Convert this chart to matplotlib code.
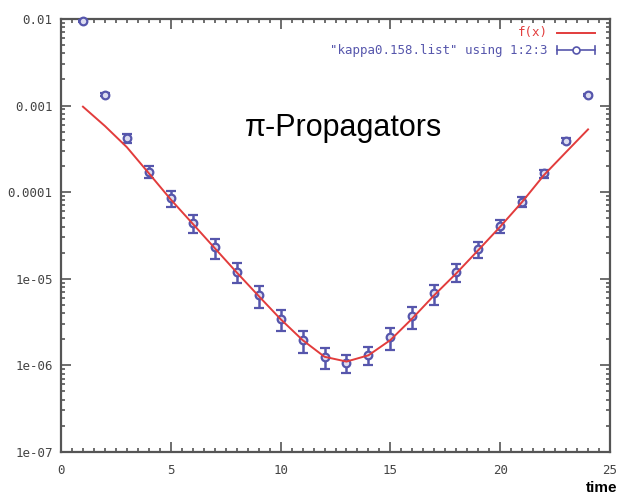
import matplotlib
matplotlib.use('Agg')
import matplotlib.pyplot as plt
import numpy as np
from matplotlib.ticker import FixedLocator, FixedFormatter, LogLocator, MultipleLocator, NullFormatter

# data
t = np.arange(1, 25)
corr = [9.5e-3, 1.34e-3, 4.18e-4, 1.72e-4, 8.46e-5, 4.42e-5, 2.30e-5, 1.20e-5,
        6.45e-6, 3.38e-6, 1.95e-6, 1.25e-6, 1.06e-6, 1.31e-6, 2.09e-6, 3.68e-6,
        6.74e-6, 1.20e-5, 2.18e-5, 4.07e-5, 7.72e-5, 1.64e-4, 3.92e-4, 1.33e-3]
corr_err = [1.9e-4, 4.0e-5, 4.6e-5, 2.8e-5, 1.7e-5, 1.06e-5, 6.0e-6, 3.2e-6,
            1.87e-6, 9.1e-7, 5.5e-7, 3.4e-7, 2.5e-7, 3.1e-7, 5.9e-7, 1.03e-6,
            1.8e-6, 2.9e-6, 4.6e-6, 7.2e-6, 1.08e-5, 1.74e-5, 2.5e-5, 2.7e-5]

# fitted curve f(x), sampled at integer times
fit_t = np.arange(1, 25)
fit_y = [9.7e-4, 5.8e-4, 3.3e-4, 1.65e-4, 8.2e-5, 4.3e-5, 2.25e-5, 1.18e-5,
         6.3e-6, 3.4e-6, 1.95e-6, 1.25e-6, 1.1e-6, 1.3e-6, 1.95e-6, 3.47e-6,
         6.45e-6, 1.15e-5, 2.13e-5, 3.98e-5, 7.7e-5, 1.58e-4, 2.9e-4, 5.3e-4]

x_ticks = [0, 5, 10, 15, 20, 25]
y_ticks = [1e-7, 1e-6, 1e-5, 1e-4, 1e-3, 1e-2]
y_tick_labels = ['1e-07', '1e-06', '1e-05', '0.0001', '0.001', '0.01']

red = '#e23c3c'
blue = '#5656ac'
gray = '#555555'
mono = 'DejaVu Sans Mono'

fig = plt.figure(figsize=(6.2, 4.98), dpi=100)
ax = fig.add_axes([61 / 620, 1 - 451.7 / 498, 549 / 620, 432.7 / 498])

ax.plot(fit_t, fit_y, color=red, lw=1.4, zorder=4)
eb = ax.errorbar(t, corr, yerr=corr_err, fmt='o', ms=5.5, mfc='#dcdcf0', mec=blue, mew=1.6,
                 ecolor=blue, elinewidth=1.8, capsize=3.5, capthick=1.6, zorder=3)
for artist in eb.lines[0:1]:
    artist.set_clip_on(False)

ax.set_yscale('log')
ax.set_xlim(0, 25)
ax.set_ylim(1e-7, 1e-2)

ax.xaxis.set_major_locator(FixedLocator(x_ticks))
ax.xaxis.set_minor_locator(MultipleLocator(0.5))
ax.yaxis.set_major_locator(FixedLocator(y_ticks))
ax.yaxis.set_major_formatter(FixedFormatter(y_tick_labels))
ax.yaxis.set_minor_locator(LogLocator(base=10, subs=np.arange(2, 10)))
ax.yaxis.set_minor_formatter(NullFormatter())

ax.tick_params(which='both', direction='in', top=True, right=True, color=gray, width=1.2)
ax.tick_params(which='major', length=7)
ax.tick_params(which='minor', length=3)
ax.tick_params(axis='x', pad=9)
ax.tick_params(axis='y', pad=6)
for lab in ax.get_xticklabels() + ax.get_yticklabels():
    lab.set_family(mono)
    lab.set_fontsize(9)
    lab.set_color('#444444')
for sp in ax.spines.values():
    sp.set_color(gray)
    sp.set_linewidth(1.6)

# legend drawn gnuplot style: text right-aligned, sample after it
ax.text(0.887, 0.968, 'f(x)', transform=ax.transAxes, ha='right', va='center',
        family=mono, fontsize=9, color=red)
ax.plot([0.904, 0.973], [0.968, 0.968], transform=ax.transAxes, color=red, lw=1.4)
ax.text(0.887, 0.928, '"kappa0.158.list" using 1:2:3', transform=ax.transAxes,
        ha='right', va='center', family=mono, fontsize=9, color=blue)
ax.plot([0.904, 0.973], [0.928, 0.928], transform=ax.transAxes, color=blue, lw=1.2)
ax.plot([0.9385], [0.928], transform=ax.transAxes, marker='o', ms=5, mfc='white',
        mec=blue, mew=1.2, ls='none')
for xc in [0.904, 0.973]:
    ax.plot([xc, xc], [0.918, 0.938], transform=ax.transAxes, color=blue, lw=1.2)

fig.text(343 / 620, 1 - 128 / 498, '\u03c0-Propagators', ha='center', va='center',
         family='Liberation Sans', fontsize=22, color='black')
fig.text(0.995, 1 - 488 / 498, 'time', ha='right', va='center',
         family='Liberation Sans', fontsize=11, fontweight='bold', color='black')

fig.savefig('out.png', dpi=100, facecolor='white')
